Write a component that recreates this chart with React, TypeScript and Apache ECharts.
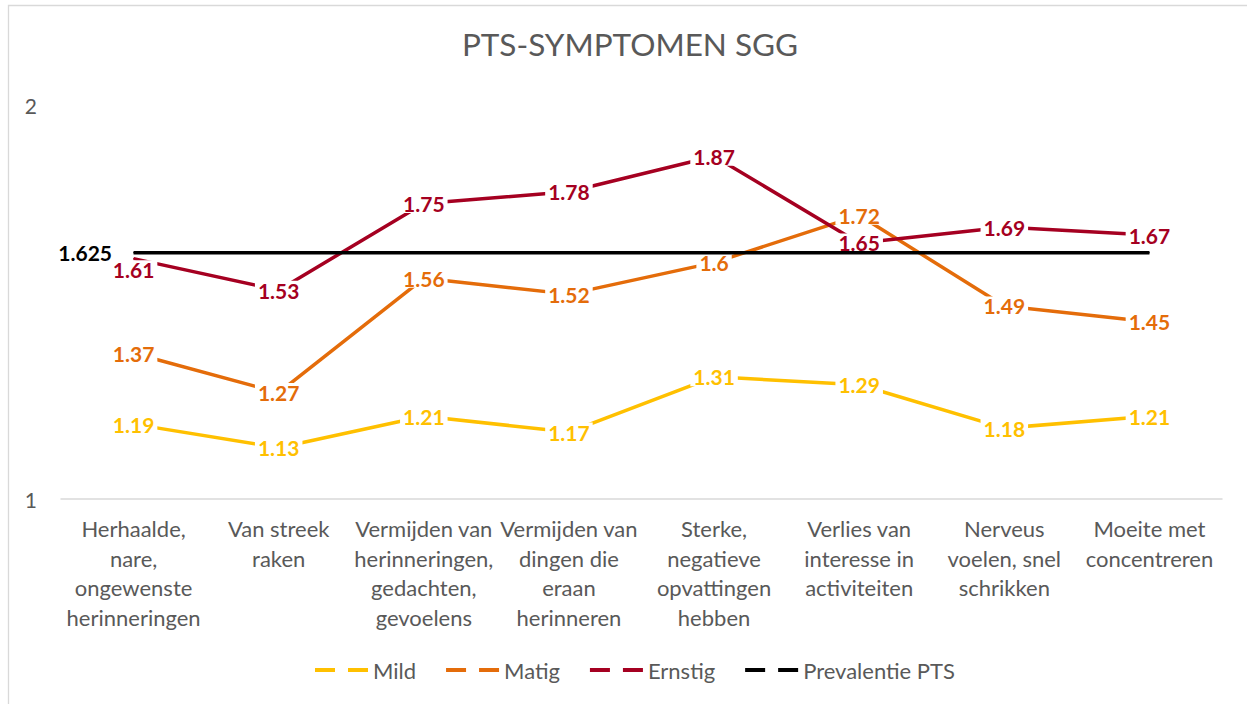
import React, { useEffect, useRef } from "react";
import * as echarts from "echarts";

const categories = [
  "Herhaalde,\nnare,\nongewenste\nherinneringen",
  "Van streek\nraken",
  "Vermijden van\nherinneringen,\ngedachten,\ngevoelens",
  "Vermijden van\ndingen die\neraan\nherinneren",
  "Sterke,\nnegatieve\nopvattingen\nhebben",
  "Verlies van\ninteresse in\nactiviteiten",
  "Nerveus\nvoelen, snel\nschrikken",
  "Moeite met\nconcentreren",
];

const mild = [1.19, 1.13, 1.21, 1.17, 1.31, 1.29, 1.18, 1.21];
const matig = [1.37, 1.27, 1.56, 1.52, 1.6, 1.72, 1.49, 1.45];
const ernstig = [1.61, 1.53, 1.75, 1.78, 1.87, 1.65, 1.69, 1.67];
const prevalentie = [1.625, 1.625, 1.625, 1.625, 1.625, 1.625, 1.625, 1.625];

const FONT = "Lato, 'Open Sans', sans-serif";
const GRAY = "#595959";
const ICON = "path://M0,0H20V4H0Z M33,0H53V4H33Z";

function labelStyle(color: string) {
  return {
    show: true,
    position: "inside",
    color,
    fontFamily: FONT,
    fontWeight: "bold",
    fontSize: 21,
    lineHeight: 17,
    backgroundColor: "#ffffff",
    padding: [1, 3],
    formatter: (p: any) => String(p.value),
  };
}

function lineSeries(name: string, values: number[], color: string, data?: any[]) {
  return {
    name,
    type: "line",
    data: data ?? values,
    symbol: "circle",
    symbolSize: 1,
    itemStyle: { color },
    lineStyle: { color, width: 3.5 },
    label: labelStyle(color),
    z: 2,
  };
}

export default function App() {
  const ref = useRef<HTMLDivElement>(null);
  useEffect(() => {
    if (!ref.current) return;
    const chart = echarts.init(ref.current, undefined, { renderer: "svg" });
    chart.setOption({
      animation: false,
      backgroundColor: "#ffffff",
      title: {
        text: "PTS-SYMPTOMEN SGG",
        left: 625,
        textAlign: "center",
        top: 23,
        textStyle: { fontFamily: FONT, fontSize: 31.5, fontWeight: "normal", color: GRAY },
      },
      legend: {
        bottom: 18,
        left: 310,
        itemWidth: 53,
        itemHeight: 4,
        itemGap: 30,
        textStyle: { fontFamily: FONT, fontSize: 22, color: GRAY },
        data: [
          { name: "Mild", icon: ICON },
          { name: "Matig", icon: ICON },
          { name: "Ernstig", icon: ICON },
          { name: "Prevalentie PTS", icon: ICON },
        ],
      },
      grid: { left: 61, right: 25, top: 105, bottom: 205, containLabel: false, outerBoundsMode: "none" },
      xAxis: {
        type: "category",
        data: categories,
        boundaryGap: true,
        axisLine: { lineStyle: { color: "#D9D9D9", width: 1.5 } },
        axisTick: { show: false },
        axisLabel: {
          interval: 0,
          margin: 15,
          fontFamily: FONT,
          fontSize: 22,
          lineHeight: 29.5,
          color: GRAY,
          align: "center",
        },
      },
      yAxis: {
        type: "value",
        min: 1,
        max: 2,
        interval: 1,
        axisLine: { show: false },
        axisTick: { show: false },
        splitLine: { show: false },
        axisLabel: { margin: 24, fontFamily: FONT, fontSize: 21, color: GRAY },
      },
      graphic: [
        {
          type: "rect",
          shape: { x: 8.5, y: 5.5, width: 1260, height: 720 },
          style: { fill: "none", stroke: "#D9D9D9", lineWidth: 1.3 },
          silent: true,
          z: -10,
        },
      ],
      series: [
        lineSeries("Mild", mild, "#FFC000"),
        lineSeries("Matig", matig, "#E46C0A"),
        lineSeries(
          "Ernstig",
          ernstig,
          "#A50021",
          ernstig.map((v, i) => (i === 0 ? { value: v, label: { offset: [0, 11] } } : v))
        ),
        {
          name: "Prevalentie PTS",
          type: "line",
          data: prevalentie.map((v, i) =>
            i === 0
              ? {
                  value: v,
                  label: {
                    show: true,
                    position: "left",
                    distance: 21,
                    color: "#000000",
                    fontFamily: FONT,
                    fontWeight: "bold",
                    fontSize: 21,
                    formatter: (p: any) => String(p.value),
                  },
                }
              : v
          ),
          symbol: "circle",
          symbolSize: 1,
          itemStyle: { color: "#000000" },
          lineStyle: { color: "#000000", width: 3.5 },
          label: { show: false },
          z: 3,
        },
      ],
    });
    return () => chart.dispose();
  }, []);
  return (
    <div
      ref={ref}
      style={{ position: "absolute", left: 0, top: 0, width: 1247, height: 704 }}
    />
  );
}
